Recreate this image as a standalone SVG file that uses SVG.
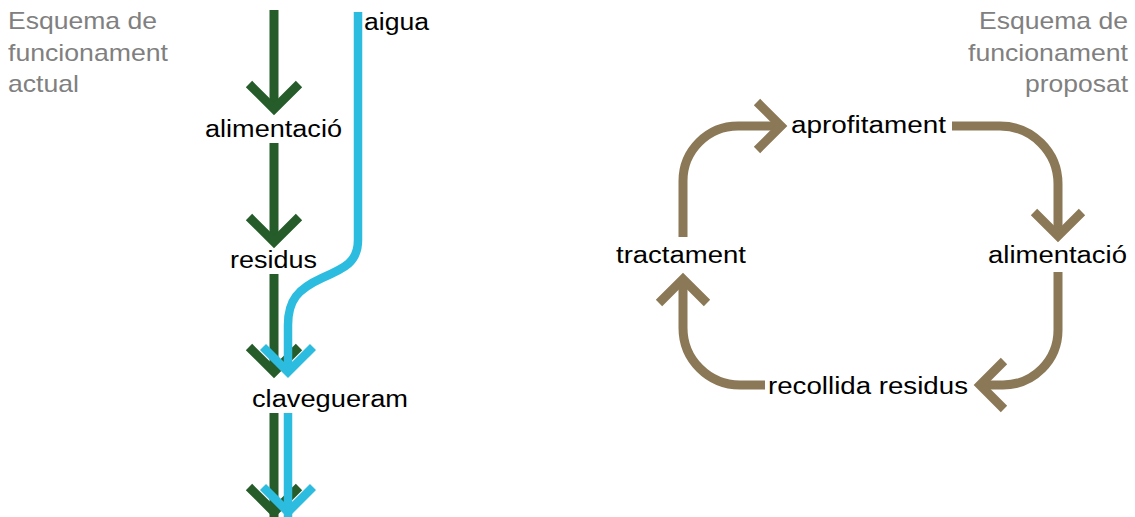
<svg xmlns="http://www.w3.org/2000/svg" width="1135" height="517" viewBox="0 0 1135 517">
<style>
.t{font-family:"Liberation Sans",Arial,sans-serif;font-size:23px;fill:#000}
.h{font-family:"Liberation Sans",Arial,sans-serif;font-size:24px;fill:#808080}
.g{fill:none;stroke:#255C2A;stroke-width:9;stroke-linejoin:miter;stroke-linecap:butt}
.b{fill:none;stroke:#2BBCE0;stroke-width:8.5;stroke-linejoin:miter;stroke-linecap:butt}
.r{fill:none;stroke:#8B7856;stroke-width:9;stroke-linejoin:miter;stroke-linecap:butt}
</style>
<rect width="1135" height="517" fill="#fff"/>
<g id="titles">
<g id="title-actual">
<text class="h" x="8" y="29" textLength="149" lengthAdjust="spacingAndGlyphs">Esquema de</text>
<text class="h" x="8" y="61" textLength="160" lengthAdjust="spacingAndGlyphs">funcionament</text>
<text class="h" x="8" y="92" textLength="71" lengthAdjust="spacingAndGlyphs">actual</text>
</g>
<g id="title-proposat">
<text class="h" x="979" y="29" textLength="149" lengthAdjust="spacingAndGlyphs">Esquema de</text>
<text class="h" x="968" y="61" textLength="160" lengthAdjust="spacingAndGlyphs">funcionament</text>
<text class="h" x="1025" y="92" textLength="103" lengthAdjust="spacingAndGlyphs">proposat</text>
</g>
</g>
<g id="connectors">
<path class="g" d="M274,10 V109"/><polyline class="g" points="249,84 274,109 299,84"/>
<path class="g" d="M274,143 V242"/><polyline class="g" points="249,217 274,242 299,217"/>
<path class="g" d="M274,274 V372"/><polyline class="g" points="249,347 274,372 299,347"/>
<path class="g" d="M274,413 V517"/><polyline class="g" points="249,487 274,512 299,487"/>
<path class="b" d="M358,12 V240 C358,262 345,268 322,278 C298,289 288,300 288,325 V372"/><polyline class="b" points="263,347 288,372 313,347"/>
<path class="b" d="M288,413 V517"/><polyline class="b" points="263,487 288,512 313,487"/>
<path class="r" d="M683,237 V181 A55,55 0 0 1 738,126 H781"/><polyline class="r" points="757,102 781,126 757,150"/>
<path class="r" d="M952,126 H1000 A58,58 0 0 1 1058,184 V236"/><polyline class="r" points="1034,212 1058,236 1082,212"/>
<path class="r" d="M1058,272 V330 A55,55 0 0 1 1003,385 H980"/><polyline class="r" points="1004,361 980,385 1004,409"/>
<path class="r" d="M765,385 H740 A57,57 0 0 1 683,328 V279"/><polyline class="r" points="659,303 683,279 707,303"/>
</g>
<g id="node-aigua"><text class="t" x="364" y="30" textLength="65" lengthAdjust="spacingAndGlyphs">aigua</text></g>
<g id="node-alimentacio-actual"><text class="t" x="205" y="137" textLength="137" lengthAdjust="spacingAndGlyphs">alimentació</text></g>
<g id="node-residus"><text class="t" x="230" y="268" textLength="87" lengthAdjust="spacingAndGlyphs">residus</text></g>
<g id="node-clavegueram"><text class="t" x="252" y="407" textLength="156" lengthAdjust="spacingAndGlyphs">clavegueram</text></g>
<g id="node-aprofitament"><text class="t" x="791" y="133" textLength="155" lengthAdjust="spacingAndGlyphs">aprofitament</text></g>
<g id="node-tractament"><text class="t" x="616" y="263" textLength="130" lengthAdjust="spacingAndGlyphs">tractament</text></g>
<g id="node-alimentacio-proposat"><text class="t" x="988" y="263" textLength="139" lengthAdjust="spacingAndGlyphs">alimentació</text></g>
<g id="node-recollida"><text class="t" x="768" y="394" textLength="200" lengthAdjust="spacingAndGlyphs">recollida residus</text></g>
</svg>
